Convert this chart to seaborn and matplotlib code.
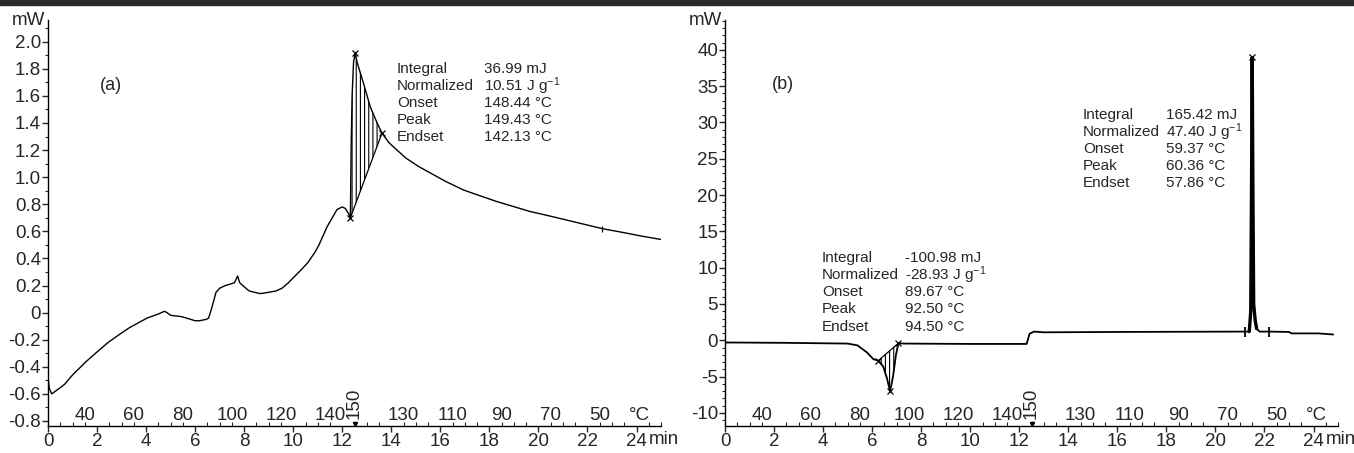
import numpy as np
import seaborn as sns
import matplotlib.pyplot as plt
from matplotlib.ticker import MultipleLocator, FixedLocator, FixedFormatter
from matplotlib.patches import Rectangle

# ---- data ----
# (a) time in min, heat flow in mW
time_a = [0, 0.05, 0.15, 0.3, 0.67, 1.0, 1.56, 2.0, 2.45, 3.0, 3.33, 4.04, 4.5, 4.75,
          4.85, 5.0, 5.46, 6.0, 6.17, 6.45, 6.55, 6.7, 6.85, 7.0, 7.23, 7.6, 7.73, 7.82,
          7.94, 8.2, 8.65, 9.0, 9.3, 9.54, 9.8, 10.07, 10.29, 10.6, 10.9, 11.05, 11.37,
          11.78, 11.99, 12.12, 12.26, 12.33, 12.36, 12.40, 12.46, 12.53, 12.6, 12.87,
          13.14, 13.42, 13.62, 13.9, 14.23, 14.6, 15.1, 15.6, 16.2, 16.95, 17.5, 18.3,
          19.67, 20.3, 21.0, 21.8, 22.6, 23.5, 24.2, 25.0]
mw_a = [-0.48, -0.56, -0.6, -0.58, -0.53, -0.46, -0.36, -0.29, -0.22, -0.15, -0.11,
        -0.04, -0.01, 0.01, 0.0, -0.02, -0.03, -0.06, -0.06, -0.05, -0.04, 0.05, 0.15,
        0.18, 0.2, 0.22, 0.27, 0.22, 0.2, 0.16, 0.14, 0.15, 0.16, 0.18, 0.22, 0.27, 0.31,
        0.37, 0.45, 0.5, 0.63, 0.76, 0.78, 0.77, 0.73, 0.70, 1.2, 1.6, 1.85, 1.92, 1.85,
        1.69, 1.52, 1.40, 1.325, 1.255, 1.20, 1.14, 1.08, 1.03, 0.97, 0.905, 0.87, 0.82,
        0.746, 0.72, 0.69, 0.655, 0.62, 0.59, 0.565, 0.54]
peak_a_start = (12.33, 0.70)
peak_a_end = (13.62, 1.325)
peak_a_top = (12.53, 1.92)
small_mark_a = (22.6, 0.62)

# (b)
time_b = [0, 2.5, 5.0, 5.4, 5.78, 6.05, 6.25, 6.45, 6.6, 6.73, 6.85, 6.97, 7.07, 7.3,
          10, 12.3, 12.36, 12.42, 12.6, 13.0, 16, 21.2, 21.38, 21.44, 21.47, 21.50,
          21.53, 21.56, 21.62, 21.68, 21.8, 22.2, 23.0, 23.1, 24.2, 24.8]
mw_b = [-0.3, -0.35, -0.45, -0.7, -1.65, -2.6, -2.8, -3.6, -5.2, -7.0, -5.0, -2.0, -0.4,
        -0.45, -0.5, -0.5, 0.2, 0.9, 1.2, 1.1, 1.15, 1.2, 1.2, 4, 20, 39, 20, 5, 2.8, 1.6,
        1.2, 1.2, 1.15, 0.95, 0.95, 0.8]
dip_b_start = (6.25, -2.8)
dip_b_end = (7.07, -0.4)
dip_b_bottom = (6.73, -7.0)
spike_b_limits = [21.2, 22.2]
spike_b_top = (21.5, 39)

# temperature scale printed inside the plots
temp_times = [1.5, 3.5, 5.5, 7.5, 9.5, 11.5, 14.5, 16.5, 18.5, 20.5, 22.5]
temp_labels = ['40', '60', '80', '100', '120', '140', '130', '110', '90', '70', '50']
temp_max_time = 12.5

time_ticks = [0, 2, 4, 6, 8, 10, 12, 14, 16, 18, 20, 22, 24]
yticks_a = [-0.8, -0.6, -0.4, -0.2, 0, 0.2, 0.4, 0.6, 0.8, 1.0, 1.2, 1.4, 1.6, 1.8, 2.0]
ylabels_a = ['-0.8', '-0.6', '-0.4', '-0.2', '0', '0.2', '0.4', '0.6', '0.8', '1.0',
             '1.2', '1.4', '1.6', '1.8', '2.0']
yticks_b = [-10, -5, 0, 5, 10, 15, 20, 25, 30, 35, 40]

names = ['Integral', 'Normalized', 'Onset', 'Peak', 'Endset']
vals_a = ['36.99 mJ', '10.51 J g$^{-1}$', '148.44 °C', '149.43 °C', '142.13 °C']
vals_b1 = ['-100.98 mJ', '-28.93 J g$^{-1}$', '89.67 °C', '92.50 °C', '94.50 °C']
vals_b2 = ['165.42 mJ', '47.40 J g$^{-1}$', '59.37 °C', '60.36 °C', '57.86 °C']

# ---- style ----
sns.set_style('ticks')
plt.rcParams['font.family'] = ['Liberation Sans', 'DejaVu Sans']
plt.rcParams['mathtext.fontset'] = 'custom'
plt.rcParams['mathtext.rm'] = 'Liberation Sans'
plt.rcParams['mathtext.it'] = 'Liberation Sans:italic'
plt.rcParams['axes.unicode_minus'] = False
plt.rcParams['hatch.linewidth'] = 0.8

fig = plt.figure(figsize=(13.54, 4.53), dpi=100)
ax_a = fig.add_axes([0.0355, 0.0596, 0.4527, 0.8962])
ax_b = fig.add_axes([0.5355, 0.0596, 0.4527, 0.8962])
fig.patches.append(Rectangle((0, 0.990), 1, 0.010, transform=fig.transFigure,
                             color='#2b2b2b', zorder=5))

FS = 13.5
AFS = 11


def hatch_region(ax, t, y, start, end):
    t = np.asarray(t)
    y = np.asarray(y)
    m = (t >= start[0]) & (t <= end[0])
    px = np.r_[start[0], t[m], end[0]]
    py = np.r_[start[1], y[m], end[1]]
    ax.fill(px, py, facecolor='none', edgecolor='black', hatch='||||', linewidth=0)
    ax.plot([start[0], end[0]], [start[1], end[1]], color='black', lw=0.9)


def style_axis(ax, ylim, yticks, ylabels, yminor, temp_y):
    ax.set_xlim(0, 25)
    ax.set_ylim(*ylim)
    sns.despine(ax=ax)
    for s in ['left', 'bottom']:
        ax.spines[s].set_linewidth(1.0)
        ax.spines[s].set_color('black')
    ax.xaxis.set_major_locator(FixedLocator(time_ticks))
    ax.xaxis.set_minor_locator(MultipleLocator(0.5))
    ax.yaxis.set_major_locator(FixedLocator(yticks))
    ax.yaxis.set_major_formatter(FixedFormatter(ylabels))
    ax.yaxis.set_minor_locator(MultipleLocator(yminor))
    ax.tick_params(axis='x', which='major', direction='out', length=4, width=1,
                   labelsize=FS, pad=1)
    ax.tick_params(axis='x', which='minor', direction='in', length=3, width=0.8)
    ax.tick_params(axis='y', which='major', direction='out', length=4, width=1,
                   labelsize=FS, pad=1)
    ax.tick_params(axis='y', which='minor', direction='out', length=2, width=0.8)
    ax.set_xlabel('')
    ax.set_ylabel('')
    ax.text(24.5, -0.013, 'min', transform=ax.get_xaxis_transform(), ha='left',
            va='top', fontsize=FS)
    ax.text(-0.004, 1.0, 'mW', transform=ax.transAxes, ha='right', va='center',
            fontsize=FS)
    tr = ax.get_xaxis_transform()
    for tt, lab in zip(temp_times, temp_labels):
        ax.text(tt, temp_y, lab, transform=tr, ha='center', va='center', fontsize=FS)
    ax.text(temp_max_time, 0.018, '150', transform=tr, ha='center', va='bottom',
            rotation=90, fontsize=FS)
    ax.text(24.1, temp_y, '°C', transform=tr, ha='center', va='center', fontsize=FS)
    ax.plot([temp_max_time], [0.005], marker='v', ms=3, color='black', transform=tr,
            clip_on=False)


def table(ax, x1, x2, ytop, dy, vals):
    for i, (n, v) in enumerate(zip(names, vals)):
        ax.text(x1, ytop - i * dy, n, fontsize=AFS, va='center', ha='left')
        ax.text(x2, ytop - i * dy, v, fontsize=AFS, va='center', ha='left')


# ---- (a) ----
sns.lineplot(x=time_a, y=mw_a, ax=ax_a, color='black', lw=1.0)
hatch_region(ax_a, time_a, mw_a, peak_a_start, peak_a_end)
ax_a.plot(*zip(peak_a_start, peak_a_end, peak_a_top), ls='none', marker='x', ms=4,
          mew=0.9, color='black')
ax_a.plot(*small_mark_a, marker='|', ms=4, mew=0.9, color='black')
style_axis(ax_a, (-0.837, 2.16), yticks_a, ylabels_a, 0.1, 0.027)
ax_a.text(2.57, 1.68, '(a)', fontsize=13, ha='center', va='center')
table(ax_a, 14.23, 17.76, 1.80, 0.125, vals_a)

# ---- (b) ----
sns.lineplot(x=time_b, y=mw_b, ax=ax_b, color='black', lw=1.3)
# the sharp crystallisation spike is drawn heavier in the original
spike = [i for i, tt in enumerate(time_b) if spike_b_limits[0] < tt < 21.7]
ax_b.plot([time_b[i] for i in spike], [mw_b[i] for i in spike], color='black', lw=2.4,
          solid_joinstyle='miter')
hatch_region(ax_b, time_b, mw_b, dip_b_start, dip_b_end)
ax_b.plot(*zip(dip_b_start, dip_b_end, dip_b_bottom, spike_b_top), ls='none',
          marker='x', ms=4, mew=0.9, color='black')
ax_b.plot(spike_b_limits, [1.2, 1.2], ls='none', marker='|', ms=7, mew=1.3,
          color='black')
style_axis(ax_b, (-11.8, 44.1), yticks_b, [str(v) for v in yticks_b], 1, 0.027)
ax_b.text(2.36, 35.2, '(b)', fontsize=13, ha='center', va='center')
table(ax_b, 14.6, 18.0, 31.0, 2.35, vals_b2)
table(ax_b, 3.95, 7.35, 11.4, 2.38, vals_b1)

fig.savefig('out.png', dpi=100)
